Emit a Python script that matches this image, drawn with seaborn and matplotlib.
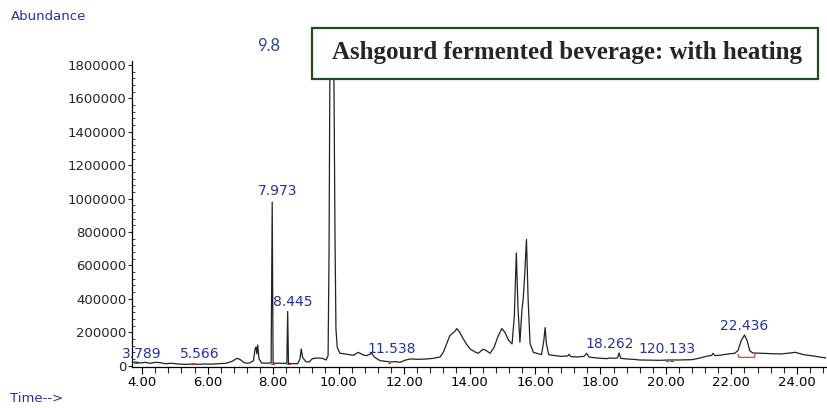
import numpy as np
import pandas as pd
import matplotlib
matplotlib.use("Agg")
import matplotlib.pyplot as plt
import seaborn as sns
from matplotlib.patches import Rectangle
from matplotlib.ticker import MultipleLocator, FuncFormatter

# Chromatogram trace (retention time in min, abundance)
time_min = [
    3.69, 3.80, 3.95, 4.10, 4.25, 4.40, 4.55, 4.70, 4.90, 5.10, 5.30, 5.50, 5.566, 5.70,
    5.90, 6.10, 6.30, 6.55, 6.75, 6.90, 7.00, 7.10, 7.20, 7.30, 7.40, 7.45, 7.48, 7.505,
    7.53, 7.57, 7.65, 7.80, 7.94, 7.973, 8.00, 8.15, 8.30, 8.42, 8.445, 8.47, 8.60, 8.75,
    8.82, 8.86, 8.90, 9.00, 9.10, 9.20, 9.35, 9.50, 9.62, 9.68, 9.71, 9.74, 9.79, 9.85,
    9.89, 9.92, 9.96, 10.04, 10.20, 10.45, 10.60, 10.75, 10.86, 11.01, 11.10, 11.27, 11.45,
    11.60, 11.75, 11.88, 11.95, 12.05, 12.20, 12.45, 12.69, 12.90, 13.10, 13.20, 13.30,
    13.40, 13.46, 13.55, 13.61, 13.70, 13.81, 13.92, 14.02, 14.15, 14.27, 14.41, 14.50,
    14.63, 14.75, 14.88, 14.99, 15.08, 15.20, 15.30, 15.37, 15.43, 15.48, 15.54, 15.60,
    15.64, 15.68, 15.74, 15.79, 15.85, 15.95, 16.10, 16.20, 16.27, 16.31, 16.35, 16.42,
    16.60, 16.80, 17.00, 17.04, 17.10, 17.30, 17.50, 17.58, 17.65, 17.80, 18.00, 18.20,
    18.262, 18.40, 18.52, 18.57, 18.62, 18.80, 19.00, 19.20, 19.50, 19.80, 20.10, 20.40,
    20.80, 21.00, 21.24, 21.40, 21.44, 21.50, 21.70, 21.90, 22.10, 22.20, 22.30, 22.40,
    22.48, 22.56, 22.65, 22.90, 23.20, 23.50, 23.80, 23.95, 24.20, 24.50, 24.89,
]
abundance = [
    20000, 22000, 16000, 20000, 14000, 20000, 18000, 12000, 14000, 10000, 8000, 9000, 11000, 8000,
    10000, 9000, 11000, 14000, 26000, 44000, 36000, 20000, 14000, 18000, 30000, 100000, 112000, 70000,
    124000, 40000, 16000, 15000, 16000, 980000, 14000, 15000, 14000, 14000, 324000, 13000, 12000, 12000,
    40000, 100000, 50000, 24000, 22000, 42000, 46000, 44000, 34000, 60000, 700000, 2000000, 3000000, 2000000,
    800000, 220000, 110000, 74000, 70000, 62000, 80000, 64000, 60000, 74000, 50000, 30000, 26000,
    22000, 24000, 20000, 26000, 34000, 40000, 38000, 40000, 44000, 52000, 80000, 130000,
    180000, 190000, 205000, 222000, 200000, 160000, 125000, 100000, 84000, 74000, 98000, 92000,
    74000, 110000, 180000, 222000, 200000, 150000, 130000, 300000, 675000, 350000, 140000, 330000,
    400000, 520000, 756000, 400000, 132000, 80000, 72000, 66000, 150000, 228000, 130000, 66000,
    60000, 56000, 58000, 68000, 54000, 52000, 56000, 74000, 52000, 48000, 44000, 42000,
    46000, 44000, 46000, 76000, 44000, 40000, 38000, 34000, 33000, 32000, 34000, 34000,
    36000, 44000, 56000, 62000, 74000, 60000, 64000, 70000, 74000, 90000, 150000, 184000,
    150000, 90000, 76000, 74000, 72000, 70000, 76000, 80000, 66000, 58000, 46000,
]

# Peak annotations (label text, label anchor time, label anchor abundance)
peak_labels = ["3.789", "5.566", "7.973", "8.445", "11.538", "18.262", "120.133", "22.436"]
label_time = [4.00, 5.76, 8.14, 8.61, 11.62, 18.29, 20.02, 22.38]
label_abund = [30000, 30000, 1002000, 342000, 60000, 90000, 60000, 198000]

# Red integration baselines (start, end, level)
base_start = [3.74, 5.50, 7.94, 8.41, 11.50, 20.00, 20.12]
base_end = [3.86, 5.62, 8.02, 8.52, 11.58, 20.06, 20.22]
base_level = [14000, 8000, 12000, 12000, 18000, 28000, 26000]

# Integration trapezoid under the 22.436 peak
trap_time = [22.20, 22.23, 22.70, 22.73]
trap_abund = [68000, 50000, 50000, 70000]

y_ticks = [0, 200000, 400000, 600000, 800000, 1000000, 1200000, 1400000, 1600000, 1800000]
x_ticks = [4, 6, 8, 10, 12, 14, 16, 18, 20, 22, 24]

df = pd.DataFrame({"time": time_min, "abundance": abundance})

sns.set_style("ticks")
plt.rcParams["font.family"] = ["DejaVu Sans"]

fig = plt.figure(figsize=(8.28, 4.08), dpi=100)
ax = fig.add_axes([132 / 828, 1 - 367 / 408, (826 - 132) / 828, (367 - 61) / 408])

sns.lineplot(data=df, x="time", y="abundance", ax=ax, color="#222222",
             linewidth=0.9, estimator=None, sort=False)

red = "#c0392b"
for s, e, lv in zip(base_start, base_end, base_level):
    ax.plot([s, e], [lv, lv], color=red, linewidth=0.8)
ax.plot(trap_time, trap_abund, color=red, linewidth=0.8)

blue = "#26339a"
for lab, tx, ay in zip(peak_labels, label_time, label_abund):
    ax.text(tx, ay, lab, color=blue, fontsize=10, ha="center", va="bottom")

ax.set_xlim(3.69, 24.89)
ax.set_ylim(-8000, 1824000)
ax.set_xticks(x_ticks)
ax.set_xticklabels([f"{v:.2f}" for v in x_ticks])
ax.xaxis.set_minor_locator(MultipleLocator(0.4))
ax.set_yticks(y_ticks)
ax.yaxis.set_major_formatter(FuncFormatter(lambda v, p: f"{int(v)}"))
ax.yaxis.set_minor_locator(MultipleLocator(40000))

ax.tick_params(axis="x", which="major", direction="out", length=5, width=0.8, pad=1.5,
               labelsize=9.5, colors="black")
ax.tick_params(axis="x", which="minor", direction="out", length=4, width=0.8)
ax.tick_params(axis="y", which="major", direction="out", length=3, width=0.8, pad=1,
               labelsize=9.5)
ax.tick_params(axis="y", which="minor", direction="in", length=2, width=0.6)

sns.despine(ax=ax)
for sp in ["left", "bottom"]:
    ax.spines[sp].set_linewidth(0.9)
    ax.spines[sp].set_color("black")
ax.set_xlabel("")
ax.set_ylabel("")

fig.text(11 / 828, 1 - 16 / 408, "Abundance", color=blue, fontsize=9.5, ha="left", va="center")
fig.text(10 / 828, 1 - 399 / 408, "Time-->", color=blue, fontsize=9.5, ha="left", va="center")
fig.text(269 / 828, 1 - 46 / 408, "9.8", color="#2e4a8a", fontsize=12,
         family=["Lato", "DejaVu Sans"], ha="center", va="center")

box = Rectangle((312 / 828, 1 - 79 / 408), (818 - 312) / 828, (79 - 28) / 408,
                transform=fig.transFigure, facecolor="white", edgecolor="#1e4d1e",
                linewidth=1.6, zorder=5)
fig.add_artist(box)
fig.text(567 / 828, 1 - 53 / 408, "Ashgourd fermented beverage: with heating",
         family=["Liberation Serif"], fontweight="bold", fontsize=18,
         ha="center", va="center", zorder=6)

fig.savefig("out.png", dpi=100)
